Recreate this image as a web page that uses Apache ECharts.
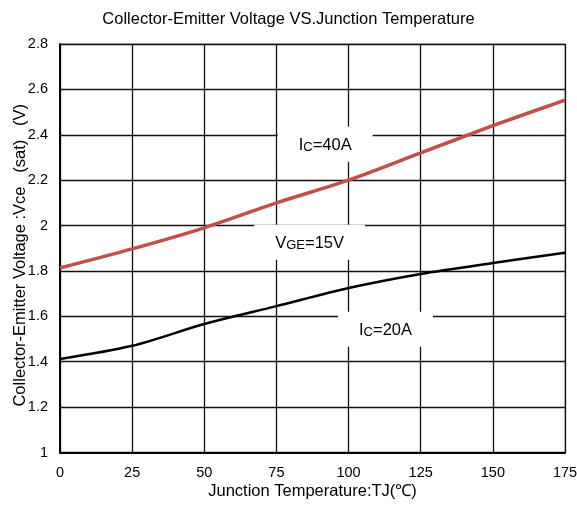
<!DOCTYPE html>
<html><head><meta charset="utf-8">
<script src="https://cdn.jsdelivr.net/npm/echarts@6/dist/echarts.min.js"></script>
<style>html,body{margin:0;padding:0;background:#fff}#c{width:577px;height:505px}</style>
</head><body><div id="c"></div>
<script>
const temps = [0, 25, 50, 75, 100, 125, 150, 175];
const vce40A = [1.813, 1.897, 1.99, 2.10, 2.20, 2.32, 2.44, 2.553];
const vce20A = [1.412, 1.47, 1.566, 1.645, 1.725, 1.787, 1.835, 1.88];
const notes = [
  {pos: [91.9, 2.358], parts: ['I', 'C', '=40A']},
  {pos: [86.5, 1.926], parts: ['V', 'GE', '=15V']},
  {pos: [112.8, 1.543], parts: ['I', 'C', '=20A']}
];
const F = 'Liberation Sans, Arial, sans-serif';
const chart = echarts.init(document.getElementById('c'));
chart.setOption({
  animation: false,
  title: {text: 'Collector-Emitter Voltage VS.Junction Temperature', left: 'center', top: 6,
    textStyle: {fontFamily: F, fontSize: 16.5, fontWeight: 'normal', color: '#000'}},
  grid: {left: 60, right: 12, top: 44, bottom: 52.5, show: true, borderColor: '#888', borderWidth: 1,
    containLabel: false, outerBoundsMode: 'none'},
  xAxis: {type: 'value', min: 0, max: 175, interval: 25,
    name: 'Junction Temperature:TJ(℃)', nameLocation: 'middle', nameGap: 30, nameMoveOverlap: false,
    nameTextStyle: {fontFamily: F, fontSize: 16.5, color: '#000'},
    axisLine: {show: true, lineStyle: {color: '#000', width: 2}},
    axisTick: {show: false},
    axisLabel: {fontFamily: F, fontSize: 14.5, color: '#000', margin: 13},
    splitLine: {show: true, lineStyle: {color: '#111', width: 1.3}}},
  yAxis: {type: 'value', min: 1, max: 2.8, interval: 0.2,
    name: 'Collector-Emitter Voltage :Vce   (sat)   (V)', nameLocation: 'middle', nameGap: 31, nameMoveOverlap: false,
    nameTextStyle: {fontFamily: F, fontSize: 16.5, color: '#000', padding: [0, 0, 0, -14]},
    axisLine: {show: true, lineStyle: {color: '#000', width: 2}},
    axisTick: {show: false},
    axisLabel: {fontFamily: F, fontSize: 14.5, color: '#000', margin: 12},
    splitLine: {show: true, lineStyle: {color: '#111', width: 1.3}}},
  series: [
    {type: 'line', data: temps.map((t, i) => [t, vce40A[i]]), smooth: 0.3, showSymbol: false,
      lineStyle: {color: '#c0504d', width: 3.5}, z: 3},
    {type: 'line', data: temps.map((t, i) => [t, vce20A[i]]), smooth: 0.3, showSymbol: false,
      lineStyle: {color: '#000', width: 2.5}, z: 3},
    ...notes.map(n => ({
      type: 'scatter', data: [n.pos], symbolSize: 0, z: 5, silent: true,
      label: {show: true, position: 'inside', color: '#000', opacity: 1,
        formatter: '{a|' + n.parts[0] + '}{b|' + n.parts[1] + '}{a|' + n.parts[2] + '}',
        backgroundColor: '#fff', padding: [10, 21, 8, 21],
        rich: {a: {fontFamily: F, fontSize: 16.5, color: '#000'}, b: {fontFamily: F, fontSize: 13, color: '#000', verticalAlign: 'bottom'}}}
    }))
  ]
});
</script></body></html>
